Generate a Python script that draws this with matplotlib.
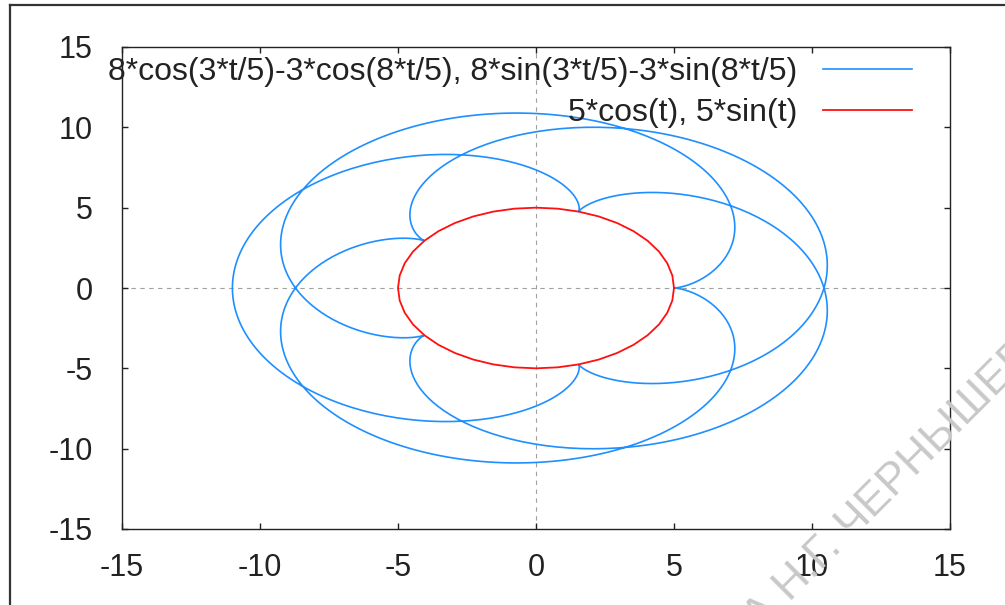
import numpy as np
import matplotlib
matplotlib.use("Agg")
import matplotlib.pyplot as plt
from matplotlib.lines import Line2D

plt.rcParams["axes.unicode_minus"] = False

# ---- data (curves defined by the formulas shown in the legend) ----
epi_amp = [8, 3]            # amplitudes of the two terms
epi_freq = [3 / 5, 8 / 5]   # frequencies of the two terms
circle_r = 5
t_range = [0, 10 * np.pi]
epi_label = "8*cos(3*t/5)-3*cos(8*t/5), 8*sin(3*t/5)-3*sin(8*t/5)"
circle_label = "5*cos(t), 5*sin(t)"
ticks = [-15, -10, -5, 0, 5, 10, 15]
watermark = "А Н.Г. ЧЕРНЫШЕВСКОГО"

W, H = 1005, 605
fig = plt.figure(figsize=(W / 100, H / 100), dpi=100)
L, R, T, B = 122, 950, 47, 529
ax = fig.add_axes([L / W, (H - B) / H, (R - L) / W, (B - T) / H])

t = np.linspace(t_range[0], t_range[1], 1200)
x1 = epi_amp[0] * np.cos(epi_freq[0] * t) - epi_amp[1] * np.cos(epi_freq[1] * t)
y1 = epi_amp[0] * np.sin(epi_freq[0] * t) - epi_amp[1] * np.sin(epi_freq[1] * t)
tc = np.linspace(0, 2 * np.pi, 41)
x2 = circle_r * np.cos(tc)
y2 = circle_r * np.sin(tc)

ax.axhline(0, color="#a0a0a0", lw=0.8, ls=(0, (4, 4)), zorder=1)
ax.axvline(0, color="#a0a0a0", lw=0.8, ls=(0, (4, 4)), zorder=1)
ax.plot(x1, y1, color="#1e8fff", lw=1.2, label=epi_label, zorder=3)
ax.plot(x2, y2, color="#ff1010", lw=1.3, label=circle_label, zorder=3)

ax.set_xlim(-15, 15)
ax.set_ylim(-15, 15)
ax.set_xticks(ticks)
ax.set_yticks(ticks)
fam = ["Liberation Sans", "DejaVu Sans"]
ax.tick_params(direction="in", length=4, width=1.0, top=True, right=True,
               labelsize=22, colors="#222222")
ax.tick_params(axis="y", pad=21)
ax.tick_params(axis="x", pad=17)
for lab in ax.get_xticklabels() + ax.get_yticklabels():
    lab.set_family(fam)
for s in ax.spines.values():
    s.set_linewidth(1.0)
    s.set_color("#222222")

leg = ax.legend(loc="upper right", bbox_to_anchor=((912 - L) / (R - L), (B - 57) / (B - T)),
                frameon=False, markerfirst=False, handlelength=2.78, handletextpad=0.8,
                labelspacing=0.36, borderaxespad=0, borderpad=0,
                prop={"family": fam, "size": 23})
for txt in leg.get_texts():
    txt.set_color("#222222")

# outer frame
fig.add_artist(Line2D([10 / W, 10 / W], [0, 1 - 5 / H], transform=fig.transFigure,
                      color="#333333", lw=1.6))
fig.add_artist(Line2D([10 / W, 1], [1 - 5 / H, 1 - 5 / H], transform=fig.transFigure,
                      color="#333333", lw=1.6))

# watermark
fig.text(760 / W, 1 - 632 / H, watermark, rotation=45, rotation_mode="anchor",
         ha="left", va="baseline", color="#c8c8c8", fontsize=32,
         family=["Liberation Sans", "DejaVu Sans"], zorder=10)

fig.savefig("out.png", dpi=100)
